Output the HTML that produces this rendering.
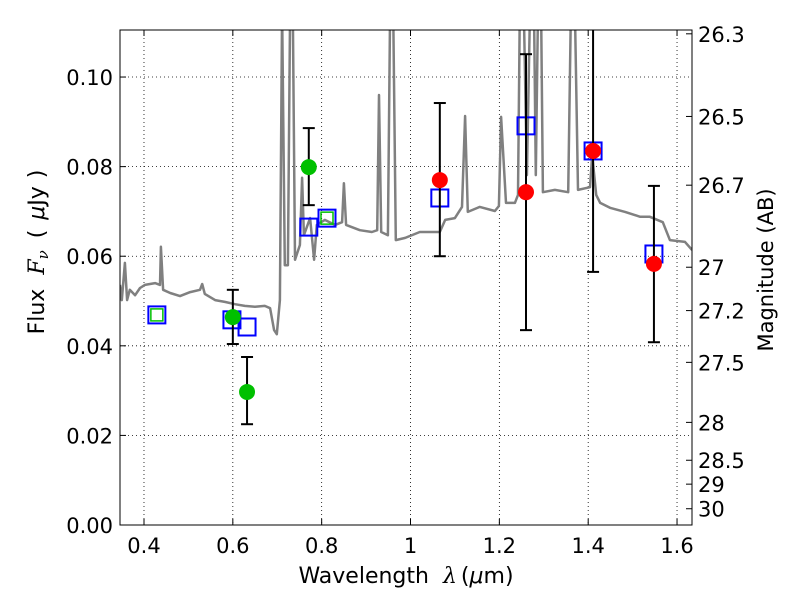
<!DOCTYPE html>
<html><head><meta charset="utf-8"><style>
html,body{margin:0;padding:0;background:#fff;}
svg text{font-family:"DejaVu Sans","Liberation Sans",sans-serif;}
</style></head><body>
<svg id="chart" width="800" height="600" xmlns="http://www.w3.org/2000/svg">
<rect x="0" y="0" width="800" height="600" fill="#fff"/>
<defs><clipPath id="clip"><rect x="120" y="30" width="572" height="495"/></clipPath></defs>
<g id="grid"></g>
<g id="plot" clip-path="url(#clip)"></g>
<g id="axes"></g>
</svg>
<script>
const specLam=[0.346,0.350,0.357,0.362,0.368,0.380,0.391,0.402,0.425,0.436,0.438,0.443,0.459,0.481,0.504,0.526,0.531,0.537,0.560,0.582,0.605,0.627,0.650,0.672,0.684,0.693,0.699,0.706,0.711,0.717,0.724,0.729,0.735,0.740,0.751,0.756,0.760,0.774,0.783,0.789,0.807,0.830,0.846,0.850,0.855,0.886,0.913,0.925,0.929,0.934,0.949,0.954,0.961,0.967,0.988,1.021,1.066,1.078,1.100,1.116,1.123,1.129,1.156,1.190,1.199,1.204,1.215,1.235,1.242,1.246,1.255,1.262,1.269,1.278,1.282,1.287,1.294,1.298,1.325,1.355,1.361,1.370,1.377,1.404,1.409,1.418,1.427,1.449,1.483,1.517,1.539,1.568,1.584,1.618,1.634];
const specFlux=[0.0536,0.0502,0.0585,0.0502,0.0525,0.0513,0.0529,0.0536,0.0540,0.0536,0.0621,0.0525,0.0518,0.0511,0.0520,0.0525,0.0538,0.0516,0.0502,0.0498,0.0493,0.0489,0.0487,0.0489,0.0484,0.0435,0.0426,0.0502,0.115,0.058,0.058,0.115,0.115,0.0592,0.0625,0.0775,0.0647,0.0685,0.0592,0.0670,0.0681,0.0670,0.0676,0.0763,0.0670,0.0658,0.0654,0.0658,0.0960,0.0654,0.0647,0.115,0.115,0.0636,0.0641,0.0654,0.0654,0.0681,0.0685,0.0710,0.0913,0.0699,0.0710,0.0701,0.0712,0.0911,0.0719,0.0719,0.0737,0.115,0.115,0.0781,0.115,0.115,0.0781,0.115,0.115,0.0743,0.0748,0.0743,0.115,0.115,0.0748,0.0754,0.0826,0.0737,0.0719,0.0708,0.0699,0.0688,0.0688,0.0676,0.0636,0.0632,0.0614];
const modelLam=[0.429,0.598,0.632,0.771,0.812,1.066,1.260,1.411,1.548];
const modelFlux=[0.0469,0.0458,0.0442,0.0665,0.0685,0.0730,0.0891,0.0835,0.0605];
const modelInner=[true,false,false,false,true,false,false,false,false];
const greenLam=[0.600,0.632,0.771];
const greenFlux=[0.0464,0.0297,0.0799];
const greenLo=[0.0404,0.0225,0.0714];
const greenHi=[0.0525,0.0375,0.0886];
const redLam=[1.066,1.260,1.411,1.548];
const redFlux=[0.0770,0.0743,0.0835,0.0583];
const redLo=[0.0600,0.0435,0.0565,0.0408];
const redHi=[0.0942,0.1051,0.12,0.0757];
const xTicks=[0.4,0.6,0.8,1.0,1.2,1.4,1.6];
const xTickLabels=["0.4","0.6","0.8","1","1.2","1.4","1.6"];
const yTicks=[0,0.02,0.04,0.06,0.08,0.10];
const yTickLabels=["0.00","0.02","0.04","0.06","0.08","0.10"];
const magTicks=[26.3,26.5,26.7,27,27.2,27.5,28,28.5,29,30];
const magLabels=["26.3","26.5","26.7","27","27.2","27.5","28","28.5","29","30"];

const L=120,R=692,T=30,B=525,xmin=0.346,xmax=1.6337,ymin=0,ymax=0.1105;
const X=v=>L+(v-xmin)/(xmax-xmin)*(R-L);
const Y=v=>B-(v-ymin)/(ymax-ymin)*(B-T);
const NS="http://www.w3.org/2000/svg";
function mk(tag,attrs,parent){const e=document.createElementNS(NS,tag);for(const k in attrs)e.setAttribute(k,attrs[k]);parent.appendChild(e);return e;}
const grid=document.getElementById('grid'),plot=document.getElementById('plot'),axes=document.getElementById('axes');

xTicks.forEach((t,i)=>{
  const g=mk('line',{x1:X(t),x2:X(t),y1:T,y2:B,stroke:'#000','stroke-width':0.8,'stroke-dasharray':'1,3'},grid);
  
  
  mk('line',{x1:X(t),x2:X(t),y1:B,y2:B-6,stroke:'#000'},axes);
  mk('line',{x1:X(t),x2:X(t),y1:T,y2:T+6,stroke:'#000'},axes);
  const tx=mk('text',{x:X(t),y:B+28,'font-size':21,'text-anchor':'middle'},axes);
  tx.textContent=xTickLabels[i];
  
  
});
yTicks.forEach((t,i)=>{
  if(t>0){const g=mk('line',{x1:L,x2:R,y1:Y(t),y2:Y(t),stroke:'#000','stroke-width':0.8,'stroke-dasharray':'1,3'},grid);
  
  }
  mk('line',{x1:L,x2:L+6,y1:Y(t),y2:Y(t),stroke:'#000'},axes);
  const tx=mk('text',{x:L-7,y:Y(t)+8,'font-size':21,'text-anchor':'end'},axes);
  tx.textContent=yTickLabels[i];
  
  
});
magTicks.forEach((m,i)=>{
  const f=Math.pow(10,(23.9-m)/2.5);
  mk('line',{x1:R,x2:R-6,y1:Y(f),y2:Y(f),stroke:'#000'},axes);
  const tx=mk('text',{x:R+6,y:Y(f)+8,'font-size':21},axes);
  tx.textContent=magLabels[i];
  
  
});

let d='';specLam.forEach((l,i)=>{d+=(i?'L':'M')+X(l).toFixed(1)+','+Y(specFlux[i]).toFixed(1);});
const sp=mk('path',{d:d,fill:'none',stroke:'#808080','stroke-width':2.5,'stroke-linejoin':'round'},plot);



function errbar(lam,lo,hi,name){
  const g=mk('g',{},plot);
  
  
  const x=X(lam);
  mk('line',{x1:x,x2:x,y1:Y(lo),y2:Y(hi),stroke:'#000','stroke-width':2},g);
  mk('line',{x1:x-6,x2:x+6,y1:Y(lo),y2:Y(lo),stroke:'#000','stroke-width':2},g);
  mk('line',{x1:x-6,x2:x+6,y1:Y(hi),y2:Y(hi),stroke:'#000','stroke-width':2},g);
}
modelLam.forEach((l,i)=>{
  const s=mk('rect',{x:X(l)-8.5,y:Y(modelFlux[i])-8.5,width:17,height:17,fill:'none',stroke:'#0000ff','stroke-width':2},plot);
  
  
  if(modelInner[i]){const q=mk('rect',{x:X(l)-6,y:Y(modelFlux[i])-6,width:12,height:12,fill:'none',stroke:'#00c000','stroke-width':1.5},plot);
  
  }
});
greenLam.forEach((l,i)=>{
  errbar(l,greenLo[i],greenHi[i],'green-error-bar');
  const c=mk('circle',{cx:X(l),cy:Y(greenFlux[i]),r:8,fill:'#00c000'},plot);
  
  
});
redLam.forEach((l,i)=>{
  errbar(l,redLo[i],redHi[i],'red-error-bar');
  const c=mk('circle',{cx:X(l),cy:Y(redFlux[i]),r:8,fill:'#ff0000'},plot);
  
  
});

const fr=mk('rect',{x:L,y:T,width:R-L,height:B-T,fill:'none',stroke:'#000','stroke-width':1},axes);


</script>
<svg width="800" height="600" style="position:absolute;left:0;top:0" xmlns="http://www.w3.org/2000/svg">
<text x="406" y="583" font-size="22" text-anchor="middle" font-family="DejaVu Sans, sans-serif">Wavelength<tspan dx="14" font-style="italic" font-family="DejaVu Serif, serif">λ</tspan><tspan dx="4">(</tspan><tspan font-style="italic">μ</tspan>m)</text>
<text transform="translate(44,252) rotate(-90)" font-size="22" text-anchor="middle" font-family="DejaVu Sans, sans-serif">Flux<tspan dx="14" font-style="italic" font-family="DejaVu Serif, serif">F</tspan><tspan font-style="italic" font-size="15" dy="4" font-family="DejaVu Serif, serif">ν</tspan><tspan dy="-4" dx="12">(</tspan><tspan dx="10" font-style="italic">μ</tspan>Jy<tspan dx="8">)</tspan></text>
<text transform="translate(773,270) rotate(-90)" font-size="21" text-anchor="middle" font-family="DejaVu Sans, sans-serif">Magnitude (AB)</text>
</svg>
</body></html>
